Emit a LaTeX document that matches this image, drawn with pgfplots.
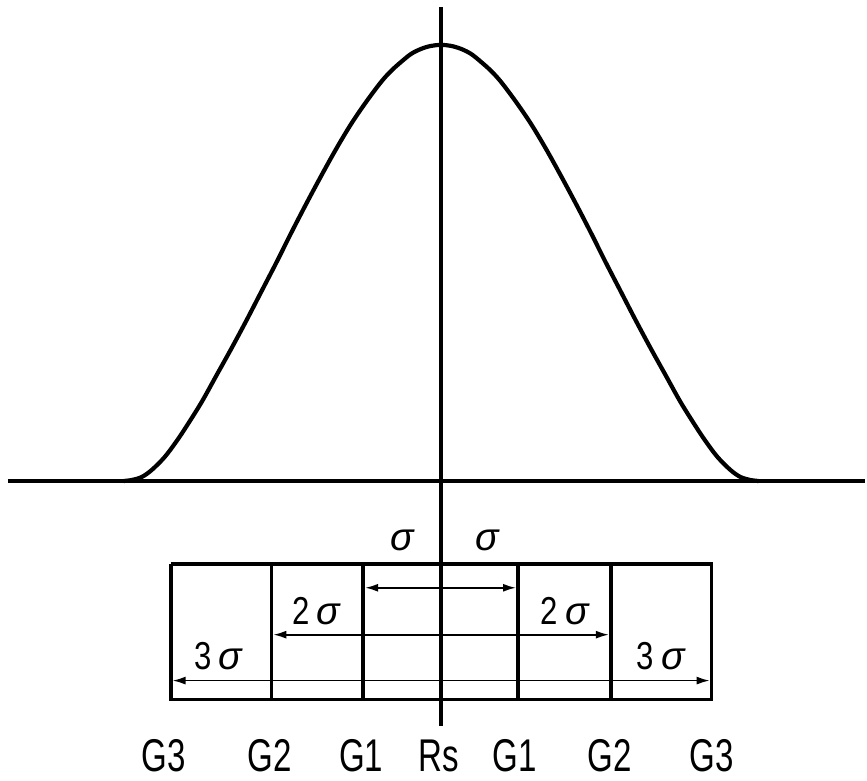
\documentclass[border=0pt]{standalone}
\usepackage{fontspec}
\setmainfont{Liberation Sans}
\newfontfamily\glab[FakeStretch=0.72]{Liberation Sans}
\newfontfamily\dlab[FakeStretch=0.8]{Liberation Sans}
\usepackage{pgfplots}
\pgfplotsset{compat=1.18}
\usetikzlibrary{arrows.meta}
\begin{document}
\begin{tikzpicture}
\begin{axis}[
  x=1bp, y=1bp,
  xmin=0, xmax=867, ymin=0, ymax=782,
  hide axis, clip=false,
  scale only axis,
]
% invisible frame for the page size
\path (axis cs:0,0) rectangle (axis cs:867,782);
% base line and centre line
\addplot[black, line width=3.6bp] coordinates {(8,300) (867,300)};
\addplot[black, line width=3.8bp] coordinates {(442,775) (442,54)};
% bell curve
\addplot[black, line width=4.2bp, smooth, tension=0.55] coordinates {
 (124,300) (132,301) (142,304) (152,311) (165,324) (177,340) (187,355)
 (202,379) (217,406) (232,433) (247,461) (262,490) (277,519) (292,549)
 (307,578) (322,606) (337,633) (352,658) (367,680) (382,700) (392,711)
 (402,720) (412,728) (422,733) (432,736) (442,737) (452,736) (462,733)
 (472,728) (482,720) (492,711) (502,700) (517,680) (532,658) (547,633)
 (562,606) (577,578) (592,549) (607,519) (622,490) (637,461) (652,433)
 (667,406) (682,379) (697,355) (707,340) (719,324) (732,311) (742,304)
 (752,301) (760,300)
};
% box
\addplot[black, line width=3.8bp] coordinates {(171,217) (713,217) (713,81) (171,81) (171,217)};
\addplot[black, line width=3.8bp] coordinates {(272,217) (272,81)};
\addplot[black, line width=3.8bp] coordinates {(364,217) (364,81)};
\addplot[black, line width=3.8bp] coordinates {(519,217) (519,81)};
\addplot[black, line width=3.8bp] coordinates {(612,217) (612,81)};
% arrows
\addplot[black, line width=1.7bp, {Latex[length=13bp,width=8bp]}-{Latex[length=13bp,width=8bp]}, shorten <=1.9bp, shorten >=1.9bp] coordinates {(364,193) (519,193)};
\addplot[black, line width=1.7bp, {Latex[length=13bp,width=8bp]}-{Latex[length=13bp,width=8bp]}, shorten <=1.9bp, shorten >=1.9bp] coordinates {(272,146) (612,146)};
\addplot[black, line width=1.7bp, {Latex[length=13bp,width=8bp]}-{Latex[length=13bp,width=8bp]}, shorten <=1.9bp, shorten >=1.9bp] coordinates {(171,100) (713,100)};
% sigma labels
\node[inner sep=0pt, font=\fontsize{39bp}{42bp}\selectfont\itshape] at (axis cs:403,240) {σ};
\node[inner sep=0pt, font=\fontsize{39bp}{42bp}\selectfont\itshape] at (axis cs:488,240) {σ};
\node[inner sep=0pt, font=\fontsize{39bp}{42bp}\selectfont] at (axis cs:317,170) {{\dlab 2}\hspace{7bp}{\itshape σ}};
\node[inner sep=0pt, font=\fontsize{39bp}{42bp}\selectfont] at (axis cs:566,170) {{\dlab 2}\hspace{7bp}{\itshape σ}};
\node[inner sep=0pt, font=\fontsize{39bp}{42bp}\selectfont] at (axis cs:218.5,125) {{\dlab 3}\hspace{7bp}{\itshape σ}};
\node[inner sep=0pt, font=\fontsize{39bp}{42bp}\selectfont] at (axis cs:662,125) {{\dlab 3}\hspace{7bp}{\itshape σ}};
% bottom labels
\foreach \xx/\tt in {164/G3, 270/G2, 362/G1, 440/Rs, 516/G1, 611/G2, 713/G3} {
  \edef\temp{\noexpand\node[inner sep=0pt, anchor=base, font=\noexpand\fontsize{46bp}{50bp}\noexpand\selectfont\noexpand\glab] at (axis cs:\xx,9) {\tt};}
  \temp
}
\end{axis}
\end{tikzpicture}
\end{document}
